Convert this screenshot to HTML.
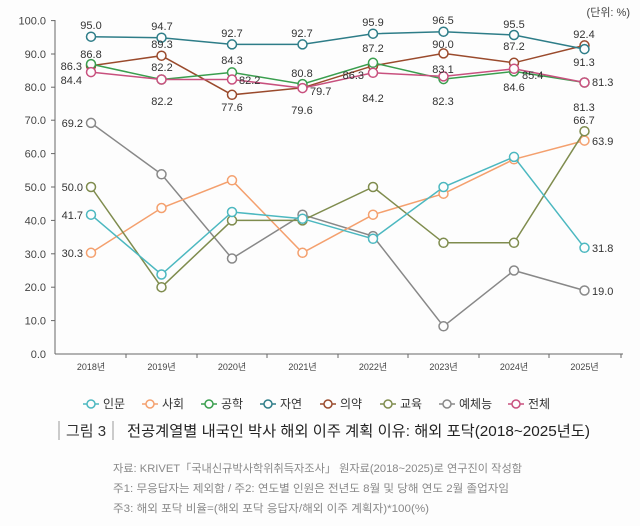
<!DOCTYPE html>
<html><head><meta charset="utf-8"><style>
html,body{margin:0;padding:0;background:#fdfdfd;}
svg{display:block;font-family:"Liberation Sans","Noto Sans CJK KR",sans-serif;}
</style></head><body>
<svg width="640" height="526" viewBox="0 0 640 526" xmlns="http://www.w3.org/2000/svg">
<rect width="640" height="526" fill="#fdfdfd"/>
<text x="630" y="16" font-size="11" fill="#444" text-anchor="end">(단위: %)</text>
<g stroke="#666" stroke-width="1" fill="none">
<line x1="55" y1="20" x2="55" y2="354"/>
<line x1="55" y1="354" x2="623" y2="354"/>
<line x1="51" y1="20.6" x2="55" y2="20.6"/><line x1="51" y1="54" x2="55" y2="54"/><line x1="51" y1="87.2" x2="55" y2="87.2"/><line x1="51" y1="120.2" x2="55" y2="120.2"/><line x1="51" y1="153.6" x2="55" y2="153.6"/><line x1="51" y1="187" x2="55" y2="187"/><line x1="51" y1="220.4" x2="55" y2="220.4"/><line x1="51" y1="253.8" x2="55" y2="253.8"/><line x1="51" y1="287.2" x2="55" y2="287.2"/><line x1="51" y1="320.6" x2="55" y2="320.6"/>
<line x1="126" y1="354" x2="126" y2="358"/><line x1="197" y1="354" x2="197" y2="358"/><line x1="267" y1="354" x2="267" y2="358"/><line x1="338" y1="354" x2="338" y2="358"/><line x1="408" y1="354" x2="408" y2="358"/><line x1="479" y1="354" x2="479" y2="358"/><line x1="549" y1="354" x2="549" y2="358"/><line x1="621" y1="354" x2="621" y2="358"/>
</g>
<g font-size="11" fill="#444" text-anchor="end">
<text x="46" y="24.6">100.0</text><text x="46" y="58">90.0</text><text x="46" y="91.2">80.0</text><text x="46" y="124.2">70.0</text><text x="46" y="157.6">60.0</text><text x="46" y="191">50.0</text><text x="46" y="224.4">40.0</text><text x="46" y="257.8">30.0</text><text x="46" y="291.2">20.0</text><text x="46" y="324.6">10.0</text><text x="46" y="358">0.0</text>
</g>
<g font-size="9" fill="#444" text-anchor="middle">
<text x="91" y="370">2018년</text><text x="161.5" y="370">2019년</text><text x="232" y="370">2020년</text><text x="302.5" y="370">2021년</text><text x="373" y="370">2022년</text><text x="443.5" y="370">2023년</text><text x="514" y="370">2024년</text><text x="584.5" y="370">2025년</text>
</g>
<g fill="#fdfdfd" stroke-width="1.5">
<g stroke="#888888"><polyline fill="none" points="91,122.9 161.5,174.3 232,258.5 302.5,214.7 373,236.1 443.5,326.3 514,270.5 584.5,290.5"/>
<circle cx="91" cy="122.9" r="4.5"/><circle cx="161.5" cy="174.3" r="4.5"/><circle cx="232" cy="258.5" r="4.5"/><circle cx="302.5" cy="214.7" r="4.5"/><circle cx="373" cy="236.1" r="4.5"/><circle cx="443.5" cy="326.3" r="4.5"/><circle cx="514" cy="270.5" r="4.5"/><circle cx="584.5" cy="290.5" r="4.5"/></g>
<g stroke="#f4a06e"><polyline fill="none" points="91,252.8 161.5,208 232,180.3 302.5,252.8 373,214.7 443.5,193.7 514,159.3 584.5,140.6"/>
<circle cx="91" cy="252.8" r="4.5"/><circle cx="161.5" cy="208" r="4.5"/><circle cx="232" cy="180.3" r="4.5"/><circle cx="302.5" cy="252.8" r="4.5"/><circle cx="373" cy="214.7" r="4.5"/><circle cx="443.5" cy="193.7" r="4.5"/><circle cx="514" cy="159.3" r="4.5"/><circle cx="584.5" cy="140.6" r="4.5"/></g>
<g stroke="#7f8c4e"><polyline fill="none" points="91,187 161.5,287.2 232,220.4 302.5,220.4 373,187 443.5,242.8 514,242.8 584.5,131.2"/>
<circle cx="91" cy="187" r="4.5"/><circle cx="161.5" cy="287.2" r="4.5"/><circle cx="232" cy="220.4" r="4.5"/><circle cx="302.5" cy="220.4" r="4.5"/><circle cx="373" cy="187" r="4.5"/><circle cx="443.5" cy="242.8" r="4.5"/><circle cx="514" cy="242.8" r="4.5"/><circle cx="584.5" cy="131.2" r="4.5"/></g>
<g stroke="#4cb8c0"><polyline fill="none" points="91,214.7 161.5,274.5 232,212 302.5,218.7 373,238.8 443.5,187 514,156.9 584.5,247.8"/>
<circle cx="91" cy="214.7" r="4.5"/><circle cx="161.5" cy="274.5" r="4.5"/><circle cx="232" cy="212" r="4.5"/><circle cx="302.5" cy="218.7" r="4.5"/><circle cx="373" cy="238.8" r="4.5"/><circle cx="443.5" cy="187" r="4.5"/><circle cx="514" cy="156.9" r="4.5"/><circle cx="584.5" cy="247.8" r="4.5"/></g>
<g stroke="#9a4a2c"><polyline fill="none" points="91,65.8 161.5,55.7 232,94.8 302.5,87.8 373,65.8 443.5,53.4 514,62.8 584.5,45.4"/>
<circle cx="91" cy="65.8" r="4.5"/><circle cx="161.5" cy="55.7" r="4.5"/><circle cx="232" cy="94.8" r="4.5"/><circle cx="302.5" cy="87.8" r="4.5"/><circle cx="373" cy="65.8" r="4.5"/><circle cx="443.5" cy="53.4" r="4.5"/><circle cx="514" cy="62.8" r="4.5"/><circle cx="584.5" cy="45.4" r="4.5"/></g>
<g stroke="#3a9e4e"><polyline fill="none" points="91,64.1 161.5,79.5 232,72.4 302.5,84.1 373,62.8 443.5,79.1 514,71.4 584.5,82.5"/>
<circle cx="91" cy="64.1" r="4.5"/><circle cx="161.5" cy="79.5" r="4.5"/><circle cx="232" cy="72.4" r="4.5"/><circle cx="302.5" cy="84.1" r="4.5"/><circle cx="373" cy="62.8" r="4.5"/><circle cx="443.5" cy="79.1" r="4.5"/><circle cx="514" cy="71.4" r="4.5"/><circle cx="584.5" cy="82.5" r="4.5"/></g>
<g stroke="#c8507e"><polyline fill="none" points="91,72.1 161.5,79.5 232,79.5 302.5,88.1 373,72.8 443.5,76.4 514,68.8 584.5,82.5"/>
<circle cx="91" cy="72.1" r="4.5"/><circle cx="161.5" cy="79.5" r="4.5"/><circle cx="232" cy="79.5" r="4.5"/><circle cx="302.5" cy="88.1" r="4.5"/><circle cx="373" cy="72.8" r="4.5"/><circle cx="443.5" cy="76.4" r="4.5"/><circle cx="514" cy="68.8" r="4.5"/><circle cx="584.5" cy="82.5" r="4.5"/></g>
<g stroke="#2e7d88"><polyline fill="none" points="91,36.7 161.5,37.7 232,44.4 302.5,44.4 373,33.7 443.5,31.7 514,35 584.5,49.1"/>
<circle cx="91" cy="36.7" r="4.5"/><circle cx="161.5" cy="37.7" r="4.5"/><circle cx="232" cy="44.4" r="4.5"/><circle cx="302.5" cy="44.4" r="4.5"/><circle cx="373" cy="33.7" r="4.5"/><circle cx="443.5" cy="31.7" r="4.5"/><circle cx="514" cy="35" r="4.5"/><circle cx="584.5" cy="49.1" r="4.5"/></g>
</g>
<g font-size="11" fill="#333" text-anchor="middle">
<text x="91" y="29">95.0</text><text x="162" y="30">94.7</text><text x="232" y="37">92.7</text><text x="302" y="37">92.7</text><text x="373" y="26">95.9</text><text x="443" y="24">96.5</text><text x="514" y="28">95.5</text><text x="584" y="38">92.4</text><text x="584" y="66">91.3</text>
<text x="91" y="58">86.8</text><text x="162" y="48">89.3</text><text x="232" y="111">77.6</text><text x="373" y="52">87.2</text><text x="443" y="48">90.0</text><text x="514" y="50">87.2</text>
<text x="162" y="71">82.2</text><text x="232" y="64">84.3</text><text x="302" y="77">80.8</text><text x="443" y="105">82.3</text><text x="514" y="91">84.6</text>
<text x="162" y="105">82.2</text><text x="302" y="114">79.6</text><text x="373" y="102">84.2</text><text x="443" y="73">83.1</text><text x="584" y="111">81.3</text>
<text x="584" y="124">66.7</text>
</g>
<g font-size="11" fill="#333" text-anchor="end">
<text x="82" y="70">86.3</text><text x="82" y="84">84.4</text><text x="364" y="79">86.3</text>
<text x="83" y="127">69.2</text><text x="83" y="191">50.0</text><text x="83" y="219">41.7</text><text x="83" y="257">30.3</text>
</g>
<g font-size="11" fill="#333" text-anchor="start">
<text x="239" y="84">82.2</text><text x="310" y="95">79.7</text><text x="522" y="79">85.4</text><text x="592" y="86">81.3</text>
<text x="592" y="145">63.9</text><text x="592" y="252">31.8</text><text x="592" y="295">19.0</text>
</g>
<g stroke-width="1.5" fill="#fdfdfd">
<g stroke="#4cb8c0"><line x1="83" y1="404" x2="99" y2="404"/><circle cx="91" cy="404" r="4"/></g>
<g stroke="#f4a06e"><line x1="142" y1="404" x2="158" y2="404"/><circle cx="150" cy="404" r="4"/></g>
<g stroke="#3a9e4e"><line x1="201" y1="404" x2="217" y2="404"/><circle cx="209" cy="404" r="4"/></g>
<g stroke="#2e7d88"><line x1="260" y1="404" x2="276" y2="404"/><circle cx="268" cy="404" r="4"/></g>
<g stroke="#9a4a2c"><line x1="320" y1="404" x2="336" y2="404"/><circle cx="328" cy="404" r="4"/></g>
<g stroke="#7f8c4e"><line x1="380" y1="404" x2="396" y2="404"/><circle cx="388" cy="404" r="4"/></g>
<g stroke="#888888"><line x1="439" y1="404" x2="455" y2="404"/><circle cx="447" cy="404" r="4"/></g>
<g stroke="#c8507e"><line x1="508" y1="404" x2="524" y2="404"/><circle cx="516" cy="404" r="4"/></g>
</g>
<g font-size="12" fill="#333">
<text x="103" y="408">인문</text><text x="162" y="408">사회</text><text x="221" y="408">공학</text><text x="280" y="408">자연</text><text x="340" y="408">의약</text><text x="400" y="408">교육</text><text x="459" y="408">예체능</text><text x="528" y="408">전체</text>
</g>
<line x1="59" y1="421" x2="59" y2="440" stroke="#999" stroke-width="1"/>
<line x1="113" y1="421" x2="113" y2="440" stroke="#999" stroke-width="1"/>
<text x="66" y="436" font-size="15" fill="#333">그림 3</text>
<text x="127" y="436" font-size="15" fill="#222" textLength="463" lengthAdjust="spacingAndGlyphs">전공계열별 내국인 박사 해외 이주 계획 이유: 해외 포닥(2018~2025년도)</text>
<g font-size="11" fill="#888">
<text x="113" y="472" textLength="409" lengthAdjust="spacingAndGlyphs">자료: KRIVET「국내신규박사학위취득자조사」 원자료(2018~2025)로 연구진이 작성함</text>
<text x="113" y="492" textLength="396" lengthAdjust="spacingAndGlyphs">주1: 무응답자는 제외함 / 주2: 연도별 인원은 전년도 8월 및 당해 연도 2월 졸업자임</text>
<text x="113" y="512" textLength="316" lengthAdjust="spacingAndGlyphs">주3: 해외 포닥 비율=(해외 포닥 응답자/해외 이주 계획자)*100(%)</text>
</g>
</svg>
</body></html>
